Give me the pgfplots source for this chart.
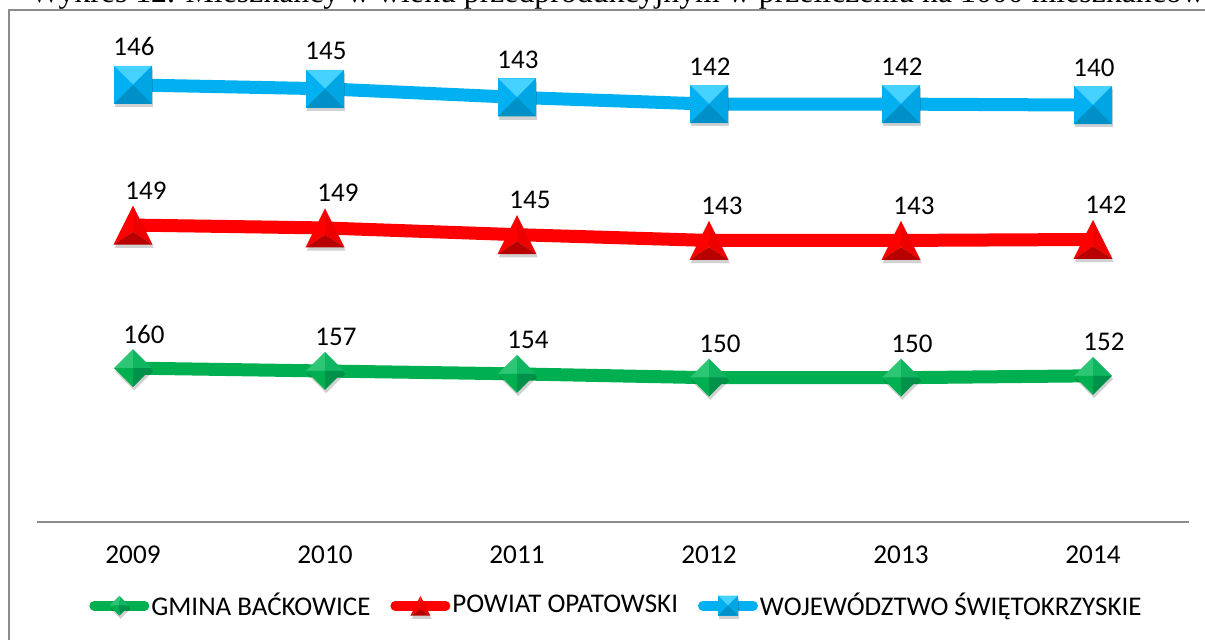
\documentclass[border=0pt]{standalone}
\usepackage{pgfplots}
\pgfplotsset{compat=1.18}
\usepackage{fontspec}
\setmainfont{Carlito}
\newfontfamily\titlefont{Liberation Serif}
\definecolor{axgray}{HTML}{8C8C8C}
\definecolor{gbase}{HTML}{00B050}
\definecolor{glight}{HTML}{2CC674}
\definecolor{gmid}{HTML}{0FB560}
\definecolor{gdark}{HTML}{00914A}
\definecolor{rbase}{HTML}{FF0000}
\definecolor{rmid}{HTML}{EE0000}
\definecolor{rdark}{HTML}{B80000}
\definecolor{bbase}{HTML}{00B0F0}
\definecolor{blight}{HTML}{45D2FF}
\definecolor{bmid}{HTML}{00A6E4}
\definecolor{bdark}{HTML}{0090C8}

\newcommand\mr{\pgfplotmarksize}
\newcommand\mkshadow[1]{%
  #1\pgfsetfillcolor{black}\pgfsetfillopacity{0.18}\pgfusepath{fill}\pgfsetfillopacity{1}}
\newcommand\tri[4]{%
  \pgfpathmoveto{#1}\pgfpathlineto{#2}\pgfpathlineto{#3}\pgfpathclose
  \pgfsetfillcolor{#4}\pgfusepath{fill}}

\pgfdeclareplotmark{bsq}{%
  \mkshadow{\pgfpathrectangle{\pgfpoint{-\mr+0.6pt}{-\mr-1.6pt}}{\pgfpoint{2*\mr}{2*\mr}}}%
  \pgfpathrectangle{\pgfpoint{-\mr}{-\mr}}{\pgfpoint{2*\mr}{2*\mr}}\pgfsetfillcolor{bbase}\pgfusepath{fill}%
  \tri{\pgfpoint{-\mr}{\mr}}{\pgfpoint{\mr}{\mr}}{\pgfpointorigin}{blight}%
  \tri{\pgfpoint{-\mr}{\mr}}{\pgfpoint{-\mr}{-\mr}}{\pgfpointorigin}{bbase}%
  \tri{\pgfpoint{\mr}{\mr}}{\pgfpoint{\mr}{-\mr}}{\pgfpointorigin}{bmid}%
  \tri{\pgfpoint{-\mr}{-\mr}}{\pgfpoint{\mr}{-\mr}}{\pgfpointorigin}{bdark}%
}
\pgfdeclareplotmark{btri}{%
  \mkshadow{\pgfpathmoveto{\pgfpoint{0.6pt}{\mr-1.6pt}}\pgfpathlineto{\pgfpoint{-\mr+0.6pt}{-\mr-1.6pt}}\pgfpathlineto{\pgfpoint{\mr+0.6pt}{-\mr-1.6pt}}\pgfpathclose}%
  \tri{\pgfpoint{0pt}{\mr}}{\pgfpoint{-\mr}{-\mr}}{\pgfpoint{0pt}{-0.35*\mr}}{rbase}%
  \tri{\pgfpoint{0pt}{\mr}}{\pgfpoint{\mr}{-\mr}}{\pgfpoint{0pt}{-0.35*\mr}}{rmid}%
  \tri{\pgfpoint{-\mr}{-\mr}}{\pgfpoint{\mr}{-\mr}}{\pgfpoint{0pt}{-0.35*\mr}}{rdark}%
}
\pgfdeclareplotmark{bdia}{%
  \mkshadow{\pgfpathmoveto{\pgfpoint{0.6pt}{\mr-1.6pt}}\pgfpathlineto{\pgfpoint{\mr+0.6pt}{-1.6pt}}\pgfpathlineto{\pgfpoint{0.6pt}{-\mr-1.6pt}}\pgfpathlineto{\pgfpoint{-\mr+0.6pt}{-1.6pt}}\pgfpathclose}%
  \tri{\pgfpoint{0pt}{\mr}}{\pgfpoint{-\mr}{0pt}}{\pgfpointorigin}{glight}%
  \tri{\pgfpoint{0pt}{\mr}}{\pgfpoint{\mr}{0pt}}{\pgfpointorigin}{gmid}%
  \tri{\pgfpoint{0pt}{-\mr}}{\pgfpoint{-\mr}{0pt}}{\pgfpointorigin}{gbase}%
  \tri{\pgfpoint{0pt}{-\mr}}{\pgfpoint{\mr}{0pt}}{\pgfpointorigin}{gdark}%
}

\begin{document}
\begin{tikzpicture}
\useasboundingbox (0,0) rectangle (602.5pt,-319.5pt);
\node[anchor=base west, inner sep=0pt, font=\titlefont\fontsize{15.9}{18}\selectfont] at (15pt,-1.3pt)
  {Wykres 12. Mieszkańcy w wieku przedprodukcyjnym w przeliczeniu na 1000 mieszkańców};
\draw[axgray, line width=1pt] (4.5pt,-5pt) rectangle (650pt,-380pt);
\begin{axis}[
  at={(18.5pt,-260.85pt)}, anchor=south west,
  scale only axis, width=576pt, height=240pt,
  xmin=-0.5, xmax=5.5, ymin=0, ymax=500,
  axis y line=none, axis x line*=bottom,
  x axis line style={draw=axgray, line width=1pt},
  xtick={0,1,2,3,4,5}, xticklabels={2009,2010,2011,2012,2013,2014},
  major tick length=0pt, ytick=\empty,
  xticklabel style={anchor=base, yshift=-21pt, font=\fontsize{13.6}{16}\selectfont},
  clip=false,
  stack plots=y,
  point meta=rawy,
  nodes near coords={\pgfmathprintnumber[assume math mode=true]{\pgfplotspointmeta}},
  every node near coord/.append style={anchor=base, inner sep=0pt, text=black, font=\fontsize{13.5}{16}\selectfont},
  legend columns=3,
  legend style={draw=none, fill=none, at={(0.503,-0.175)}, anchor=center,
    font=\fontsize{13.5}{16}\selectfont, nodes={inner sep=1pt},
    /tikz/every even column/.append style={column sep=9pt}},
  legend image code/.code={\draw[#1, line width=4.8pt, line cap=round, mark size=5pt, mark repeat=2, mark phase=2]
     plot coordinates {(2.4pt,0pt) (15pt,0pt) (27.6pt,0pt)};},
]
\addplot[gbase, line width=6.5pt, line join=round, mark=bdia, mark size=9.5pt,
  every node near coord/.append style={xshift=5.5pt, yshift=12.5pt}]
  coordinates {(0,160) (1,157) (2,154) (3,150) (4,150) (5,152)};
\addlegendentry{GMINA BAĆKOWICE}
\addplot[rbase, line width=6.5pt, line join=round, mark=btri, mark size=9.75pt,
  every node near coord/.append style={xshift=6.5pt, yshift=13pt}]
  coordinates {(0,149) (1,149) (2,145) (3,143) (4,143) (5,142)};
\addlegendentry{POWIAT OPATOWSKI}
\addplot[bbase, line width=6.5pt, line join=round, mark=bsq, mark size=9.5pt,
  every node near coord/.append style={xshift=0.5pt, yshift=14.5pt}]
  coordinates {(0,146) (1,145) (2,143) (3,142) (4,142) (5,140)};
\addlegendentry{WOJEWÓDZTWO ŚWIĘTOKRZYSKIE}
\end{axis}
\end{tikzpicture}
\end{document}
